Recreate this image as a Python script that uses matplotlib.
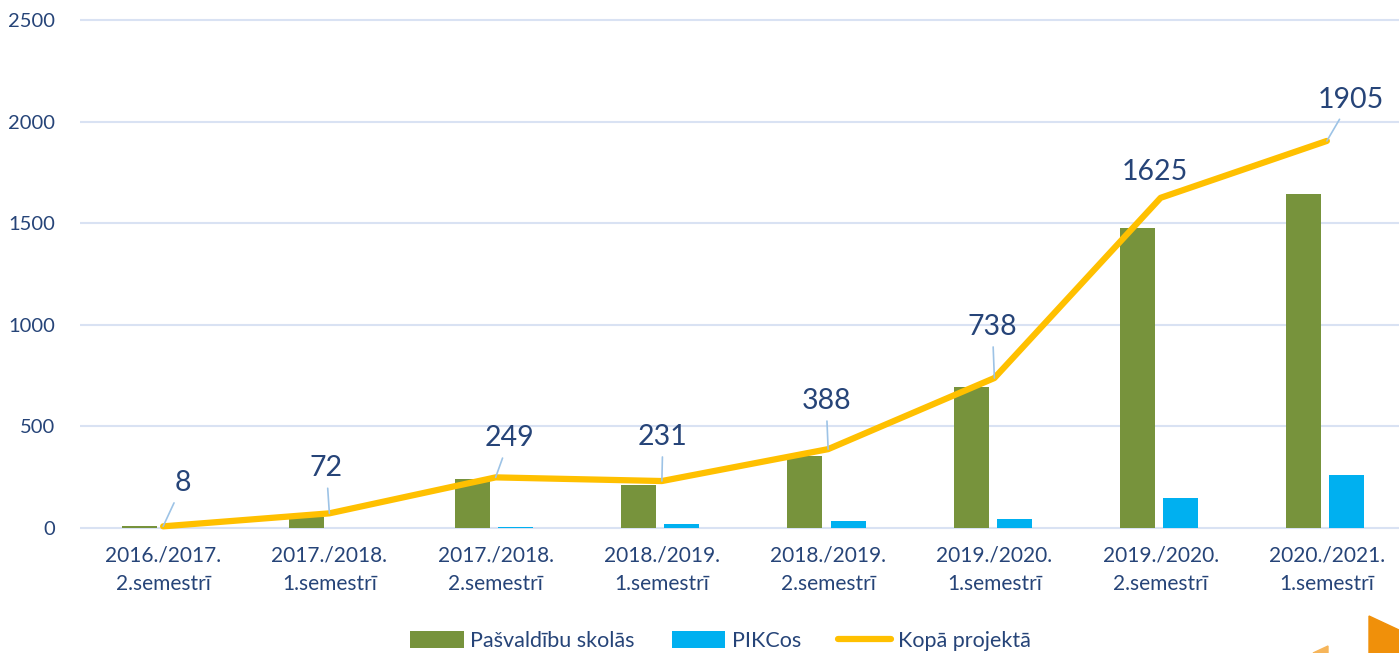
import matplotlib
matplotlib.use('agg')
import matplotlib.pyplot as plt
from matplotlib.patches import Polygon
import numpy as np

plt.rcParams['font.family'] = ['Lato', 'DejaVu Sans']

# data
categories = ['2016./2017.\n2.semestrī', '2017./2018.\n1.semestrī', '2017./2018.\n2.semestrī',
              '2018./2019.\n1.semestrī', '2018./2019.\n2.semestrī', '2019./2020.\n1.semestrī',
              '2019./2020.\n2.semestrī', '2020./2021.\n1.semestrī']
pasvaldibu = [8, 55, 240, 213, 354, 694, 1477, 1644]
pikc = [0, 0, 5, 18, 34, 44, 148, 261]
kopa = [8, 72, 249, 231, 388, 738, 1625, 1905]

# label offsets (pixels) from each line point, and whether a leader line is drawn
label_dx = [20, -3, 14, 1, -2, -2, -6, 24]
label_dy = [43, 45, 39, 44, 48, 51, 26, 41]
leader = [True, True, True, True, True, True, False, True]

text_color = '#264478'
green = '#77933C'
blue = '#00B0F0'
yellow = '#FFC000'
grid_color = '#D9E2F3'

fig = plt.figure(figsize=(13.99, 6.53), dpi=100)
ax = fig.add_axes([80 / 1399, (653 - 530) / 653, 1330 / 1399, 512 / 653])

x = np.arange(len(categories))
w = 0.21
b1 = ax.bar(x - 0.14, pasvaldibu, w, color=green, label='Pašvaldību skolās', zorder=2)
b2 = ax.bar(x + 0.12, pikc, w, color=blue, label='PIKCos', zorder=2)
ln, = ax.plot(x, kopa, color=yellow, lw=4.5, solid_capstyle='round', solid_joinstyle='round',
              label='Kopā projektā', zorder=3)

for i, v in enumerate(kopa):
    props = dict(arrowstyle='-', color='#9DC3E6', lw=1.2, shrinkA=3, shrinkB=0) if leader[i] else None
    ax.annotate(str(v), (x[i], v), xytext=(label_dx[i], label_dy[i]), textcoords='offset pixels',
                ha='center', va='center', fontsize=20.5, color=text_color, arrowprops=props, zorder=4)

ax.set_xlim(-0.5, 7.5)
ax.set_ylim(-10, 2510)
ax.set_yticks([0, 500, 1000, 1500, 2000, 2500])
ax.set_xticks(x)
ax.set_xticklabels(categories, linespacing=1.55)
ax.tick_params(axis='both', length=0, labelcolor=text_color)
ax.tick_params(axis='x', pad=11, labelsize=15)
ax.tick_params(axis='y', pad=18, labelsize=14.5)
ax.grid(axis='y', color=grid_color, lw=1.5, zorder=0)
for s in ax.spines.values():
    s.set_visible(False)

fig.legend(handles=[b1, b2, ln], loc='center', bbox_to_anchor=(0.515, (653 - 641) / 653), ncol=3,
           frameon=False, fontsize=15.5, labelcolor=text_color, handlelength=2.5, handletextpad=0.3,
           columnspacing=1.7, handleheight=0.8)

# orange corner decorations
fig.patches.append(Polygon([[1369 / 1399, 37 / 653], [1.0, 23 / 653], [1.0, 0], [1369 / 1399, 0]],
                           closed=True, transform=fig.transFigure, color='#F0900A'))
fig.patches.append(Polygon([[1313 / 1399, 0], [1328 / 1399, 7 / 653], [1328 / 1399, 0]],
                           closed=True, transform=fig.transFigure, color='#F6B55A'))

fig.savefig('out.png', dpi=100)
